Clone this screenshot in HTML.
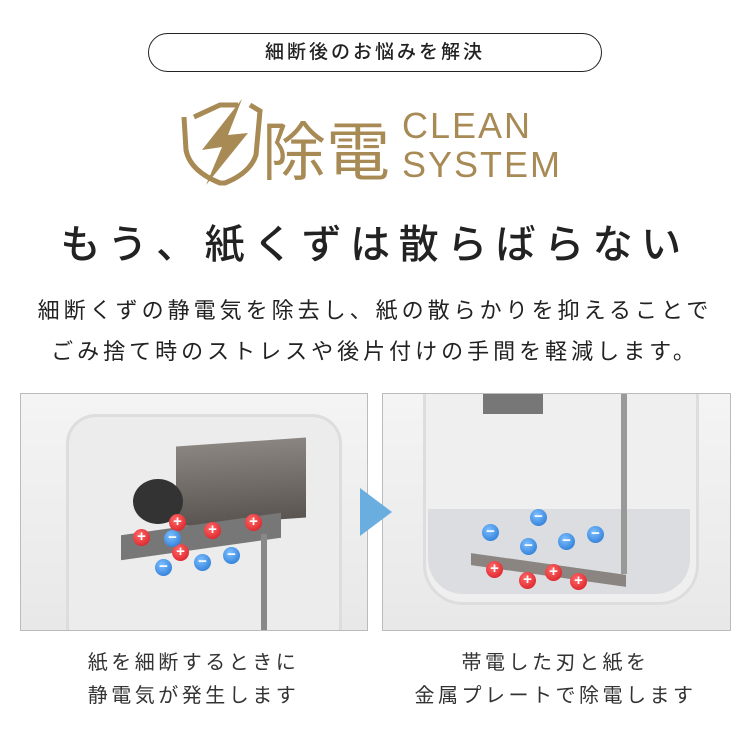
<!DOCTYPE html>
<html><head><meta charset="utf-8"><style>
body{margin:0;width:750px;height:750px;background:#fff;position:relative;overflow:hidden;font-family:"Liberation Sans","Noto Sans CJK JP",sans-serif;color:#222}
.a{position:absolute}
.pill{left:148px;top:33px;width:452px;height:37px;border:1.5px solid #222;border-radius:20px;text-align:center;line-height:37px;font-size:19px;letter-spacing:3px;font-weight:500}
.c{left:0;width:750px;text-align:center}
.box{border:1px solid #bbb;background:linear-gradient(#f4f4f4,#e8e8e8);overflow:hidden}
.q{position:absolute;width:17px;height:17px;border-radius:50%;color:#fff;font-size:15px;font-weight:bold;text-align:center;line-height:16px;margin:-8px 0 0 -8px}
.p{background:radial-gradient(circle at 40% 35%,#ff6a6a,#d4141c)}
.m{background:radial-gradient(circle at 40% 35%,#7ec0ff,#1e6fd0)}
</style></head><body>
<div class="a pill">細断後のお悩みを解決</div>
<svg class="a" style="left:180px;top:95px" width="400" height="95">
<path d="M14 22 L40 10 L58 10 M70 10 L80 16 L76 60 Q70 78 45 88 L40 88 Q10 76 6 55 L4 22" fill="none" stroke="#a88a55" stroke-width="5"/>
<path d="M62 4 L22 55 L42 52 L26 90 L68 38 L48 40 Z" fill="#a88a55"/>
<text x="82" y="80" font-size="64" fill="#a88a55" font-family="Noto Sans CJK JP">除電</text>
<text x="222" y="43" font-size="36" fill="#a88a55" font-family="Liberation Sans" letter-spacing="2">CLEAN</text>
<text x="222" y="82" font-size="36" fill="#a88a55" font-family="Liberation Sans" letter-spacing="2">SYSTEM</text>
</svg>
<div class="a c" style="top:212px;font-size:40px;letter-spacing:8.5px;font-weight:500">もう、紙くずは散らばらない</div>
<div class="a c" style="top:293px;font-size:22px;letter-spacing:4px">細断くずの静電気を除去し、紙の散らかりを抑えることで</div>
<div class="a c" style="top:334px;font-size:22px;letter-spacing:4px">ごみ捨て時のストレスや後片付けの手間を軽減します。</div>
<div class="a box" style="left:20px;top:393px;width:346px;height:236px">
<div class="a" style="left:45px;top:20px;width:270px;height:230px;border:3px solid #ddd;border-radius:30px 30px 0 0;background:#ececec"></div>
<div class="a" style="left:155px;top:48px;width:130px;height:80px;background:linear-gradient(#8a8580,#5a5550);transform:skewY(-4deg)"></div>
<div class="a" style="left:112px;top:85px;width:50px;height:45px;border-radius:50%;background:#333"></div>
<div class="a" style="left:100px;top:130px;width:160px;height:25px;background:#777;transform:skewY(-8deg)"></div>
<div class="a" style="left:240px;top:140px;width:6px;height:100px;background:#888"></div>
</div>
<div class="a box" style="left:382px;top:393px;width:347px;height:236px">
<div class="a" style="left:40px;top:-20px;width:270px;height:225px;border:3px solid #ddd;border-radius:0 0 40px 40px;background:#efefef"></div>
<div class="a" style="left:45px;top:115px;width:262px;height:85px;background:#dcdde0;border-radius:0 0 35px 35px"></div>
<div class="a" style="left:100px;top:0;width:60px;height:20px;background:#777"></div>
<div class="a" style="left:238px;top:0;width:6px;height:180px;background:#999"></div>
<div class="a" style="left:88px;top:170px;width:155px;height:12px;background:#8a8580;transform:skewY(8deg)"></div>
</div>
<svg class="a" style="left:358px;top:488px" width="36" height="48"><path d="M2 0 L34 24 L2 48Z" fill="#6aaee0"/></svg>
<div class="q p" style="left:141px;top:537px">+</div><div class="q p" style="left:177px;top:522px">+</div><div class="q p" style="left:212px;top:530px">+</div><div class="q p" style="left:253px;top:522px">+</div><div class="q p" style="left:180px;top:552px">+</div>
<div class="q m" style="left:172px;top:538px">−</div><div class="q m" style="left:163px;top:567px">−</div><div class="q m" style="left:202px;top:562px">−</div><div class="q m" style="left:231px;top:555px">−</div>
<div class="q m" style="left:538px;top:517px">−</div><div class="q m" style="left:490px;top:532px">−</div><div class="q m" style="left:528px;top:546px">−</div><div class="q m" style="left:566px;top:541px">−</div><div class="q m" style="left:595px;top:534px">−</div>
<div class="q p" style="left:494px;top:569px">+</div><div class="q p" style="left:527px;top:580px">+</div><div class="q p" style="left:553px;top:572px">+</div><div class="q p" style="left:578px;top:581px">+</div>
<div class="a" style="left:20px;width:347px;text-align:center;top:646px;font-size:20px;letter-spacing:3.5px;color:#333">紙を細断するときに</div>
<div class="a" style="left:20px;width:347px;text-align:center;top:679px;font-size:20px;letter-spacing:3.5px;color:#333">静電気が発生します</div>
<div class="a" style="left:382px;width:347px;text-align:center;top:646px;font-size:20px;letter-spacing:3.5px;color:#333">帯電した刃と紙を</div>
<div class="a" style="left:382px;width:347px;text-align:center;top:679px;font-size:20px;letter-spacing:3.5px;color:#333">金属プレートで除電します</div>
</body></html>
